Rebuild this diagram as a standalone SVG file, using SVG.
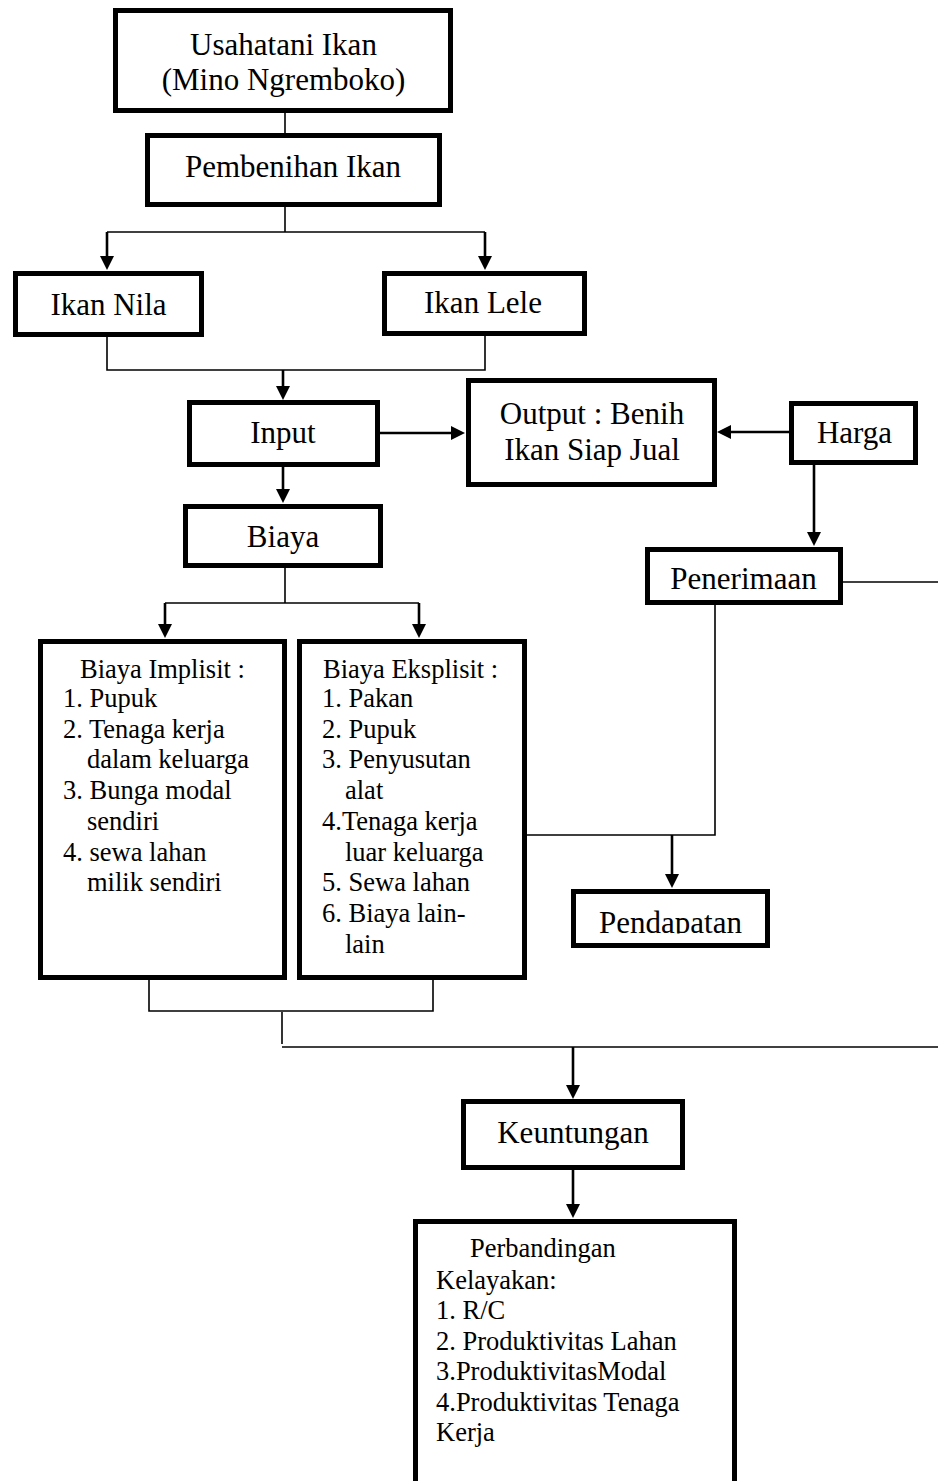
<svg xmlns="http://www.w3.org/2000/svg" width="938" height="1481" viewBox="0 0 938 1481">
<style>
.box{fill:#fff;stroke:#000;stroke-width:5}
.t{font-family:"Liberation Serif","Times New Roman",serif;font-size:31px;fill:#000;text-anchor:middle}
.s{font-family:"Liberation Serif","Times New Roman",serif;font-size:26.5px;fill:#000}
.ln{stroke:#000;stroke-width:1.6;fill:none}
.ar{stroke:#000;stroke-width:2.6;fill:none;marker-end:url(#ah)}
</style>
<defs>
<marker id="ah" viewBox="0 0 14 14" refX="10" refY="7" markerWidth="14" markerHeight="14" markerUnits="userSpaceOnUse" orient="auto">
<path d="M0,0 L14,7 L0,14 z" fill="#000"/>
</marker>
<clipPath id="clipPend"><rect x="571" y="889" width="199" height="44.5"/></clipPath>
</defs>
<rect width="938" height="1481" fill="#fff"/>
<g id="connectors">
<line class="ln" x1="285" y1="113" x2="285" y2="133"/>
<polyline class="ln" points="285,207 285,232"/>
<line class="ln" x1="107" y1="232" x2="485" y2="232"/>
<line class="ar" x1="107" y1="232" x2="107" y2="266"/>
<line class="ar" x1="485" y1="232" x2="485" y2="266"/>
<polyline class="ln" points="107,337 107,370 485,370 485,335"/>
<line class="ar" x1="283" y1="370" x2="283" y2="396"/>
<line class="ar" x1="380" y1="433" x2="461" y2="433"/>
<line class="ar" x1="283" y1="467" x2="283" y2="499"/>
<line class="ar" x1="789" y1="432" x2="721" y2="432"/>
<line class="ar" x1="814" y1="465" x2="814" y2="542"/>
<polyline class="ln" points="285,568 285,603"/>
<line class="ln" x1="165" y1="603" x2="419" y2="603"/>
<line class="ar" x1="165" y1="603" x2="165" y2="634"/>
<line class="ar" x1="419" y1="603" x2="419" y2="634"/>
<line class="ln" x1="843" y1="582" x2="938" y2="582"/>
<polyline class="ln" points="715,605 715,835 527,835"/>
<line class="ar" x1="672" y1="835" x2="672" y2="884"/>
<polyline class="ln" points="149,980 149,1011 433,1011 433,980"/>
<line class="ln" x1="282" y1="1012" x2="282" y2="1044"/>
<line class="ln" x1="282" y1="1047" x2="938" y2="1047"/>
<line class="ar" x1="573" y1="1047" x2="573" y2="1095"/>
<line class="ar" x1="573" y1="1170" x2="573" y2="1214"/>
</g>
<g id="n-usahatani">
<rect class="box" x="115.5" y="10.5" width="335" height="100"/>
<text class="t" x="283.5" y="55">Usahatani Ikan</text>
<text class="t" x="283.5" y="90">(Mino Ngremboko)</text>
</g>
<g id="n-pembenihan">
<rect class="box" x="147.5" y="135.5" width="292" height="69"/>
<text class="t" x="293" y="177">Pembenihan Ikan</text>
</g>
<g id="n-nila">
<rect class="box" x="15.5" y="273.5" width="186" height="61"/>
<text class="t" x="108.5" y="315">Ikan Nila</text>
</g>
<g id="n-lele">
<rect class="box" x="384.5" y="273.5" width="200" height="60"/>
<text class="t" x="483" y="313">Ikan Lele</text>
</g>
<g id="n-input">
<rect class="box" x="189.5" y="402.5" width="188" height="62"/>
<text class="t" x="283" y="443">Input</text>
</g>
<g id="n-output">
<rect class="box" x="468.5" y="380.5" width="246" height="104"/>
<text class="t" x="592" y="424">Output : Benih</text>
<text class="t" x="592" y="460">Ikan Siap Jual</text>
</g>
<g id="n-harga">
<rect class="box" x="791.5" y="403.5" width="124" height="59"/>
<text class="t" x="854.5" y="443">Harga</text>
</g>
<g id="n-biaya">
<rect class="box" x="185.5" y="506.5" width="195" height="59"/>
<text class="t" x="283" y="547">Biaya</text>
</g>
<g id="n-penerimaan">
<rect class="box" x="647.5" y="549.5" width="193" height="53"/>
<text class="t" x="743.5" y="589">Penerimaan</text>
</g>
<g id="n-implisit">
<rect class="box" x="40.5" y="641.5" width="244" height="336"/>
<text class="s" x="80" y="678">Biaya Implisit :</text>
<text class="s" x="63" y="707">1. Pupuk</text>
<text class="s" x="63" y="738">2. Tenaga kerja</text>
<text class="s" x="87" y="768">dalam keluarga</text>
<text class="s" x="63" y="799">3. Bunga modal</text>
<text class="s" x="87" y="830">sendiri</text>
<text class="s" x="63" y="861">4. sewa lahan</text>
<text class="s" x="87" y="891">milik sendiri</text>
</g>
<g id="n-eksplisit">
<rect class="box" x="299.5" y="641.5" width="225" height="336"/>
<text class="s" x="323" y="678">Biaya Eksplisit :</text>
<text class="s" x="322" y="707">1. Pakan</text>
<text class="s" x="322" y="738">2. Pupuk</text>
<text class="s" x="322" y="768">3. Penyusutan</text>
<text class="s" x="345" y="799">alat</text>
<text class="s" x="322" y="830">4.Tenaga kerja</text>
<text class="s" x="345" y="861">luar keluarga</text>
<text class="s" x="322" y="891">5. Sewa lahan</text>
<text class="s" x="322" y="922">6. Biaya lain-</text>
<text class="s" x="345" y="953">lain</text>
</g>
<g id="n-pendapatan">
<rect class="box" x="573.5" y="891.5" width="194" height="54"/>
<text class="t" x="670.5" y="933" clip-path="url(#clipPend)">Pendapatan</text>
</g>
<g id="n-keuntungan">
<rect class="box" x="463.5" y="1101.5" width="219" height="66"/>
<text class="t" x="573" y="1143">Keuntungan</text>
</g>
<g id="n-perbandingan">
<rect class="box" x="415.5" y="1221.5" width="319" height="300"/>
<text class="s" x="470" y="1257">Perbandingan</text>
<text class="s" x="436" y="1289">Kelayakan:</text>
<text class="s" x="436" y="1319">1. R/C</text>
<text class="s" x="436" y="1350">2. Produktivitas Lahan</text>
<text class="s" x="436" y="1380">3.ProduktivitasModal</text>
<text class="s" x="436" y="1411">4.Produktivitas Tenaga</text>
<text class="s" x="436" y="1441">Kerja</text>
</g>
</svg>
